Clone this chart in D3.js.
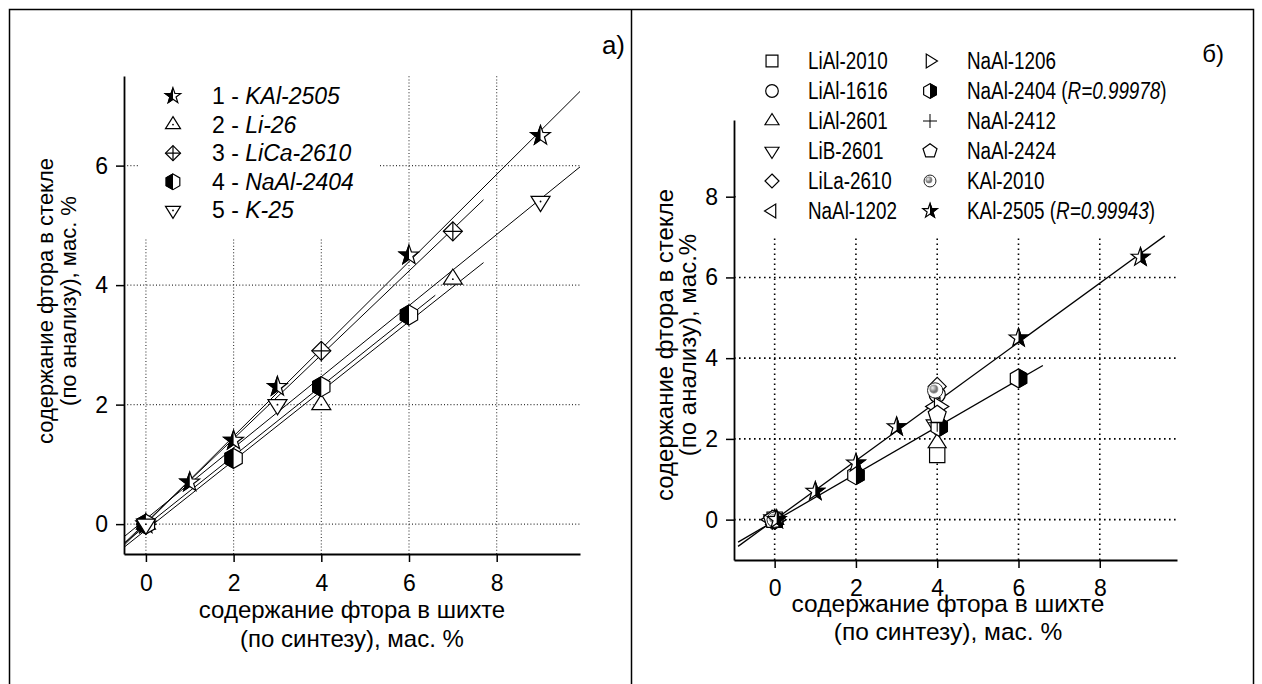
<!DOCTYPE html>
<html>
<head>
<meta charset="utf-8">
<script src="https://cdn.jsdelivr.net/npm/d3@7"></script>
<style>
  body { margin: 0; background: #fff; }
  svg { display: block; }
  text { font-family: Arial, 'Liberation Sans', sans-serif; fill: #000; }
</style>
</head>
<body>
<div id="app"></div>
<script>
// панель а)
var aNames = ['KAl-2505', 'Li-26', 'LiCa-2610', 'NaAl-2404', 'K-25'];
var aX = [[0, 1, 2, 3, 6, 9], [0, 4, 7], [0, 4, 7], [0, 2, 4, 6], [0, 3, 9]];
var aY = [[0, 0.7, 1.4, 2.3, 4.5, 6.5], [0, 2.0, 4.1], [0, 2.9, 4.9], [0, 1.1, 2.3, 3.5], [0, 2.0, 5.4]];
var aFitFrom = [-0.5, -0.5, -0.5, -0.5, -0.5];
var aFitTo = [9.9, 7.7, 7.7, 6.6, 9.9];
var aMarks = ['starL', 'triUpDot', 'diamondCross', 'hexL', 'triDownDot'];

// панель б)
var bNames = ['LiAl-2010', 'LiAl-1616', 'LiAl-2601', 'LiB-2601', 'LiLa-2610', 'NaAl-1202',
              'NaAl-1206', 'NaAl-2404', 'NaAl-2412', 'NaAl-2424', 'KAl-2010', 'KAl-2505'];
var bR = ['', '', '', '', '', '', '', '0.99978', '', '', '', '0.99943'];
var bX = [[0, 4], [0, 4], [0, 4], [-0.05, 3.95], [0, 4], [-0.1, 3.95], [0.05, 4.05],
          [0, 2, 4.05, 6], [0, 4], [-0.05, 4], [0, 3.95], [0.05, 1, 2, 3, 6, 9]];
var bY = [[0, 1.6], [0, 3.1], [0, 1.9], [0, 2.35], [0, 3.3], [0, 2.8], [0, 2.8],
          [0, 1.1, 2.3, 3.5], [0, 2.4], [0, 2.6], [0, 3.2], [0, 0.7, 1.4, 2.3, 4.5, 6.5]];
var bFitSeries = [7, 11];
var bFitFrom = [-0.9, -0.9];
var bFitTo = [6.6, 9.6];
var bMarks = ['square', 'circle', 'triUp', 'triDown', 'diamond', 'triLeft', 'triRight',
              'hexR', 'plus', 'pentagon', 'sphere', 'starR'];

var xMajor = [0, 2, 4, 6, 8];
var aYMajor = [0, 2, 4, 6];
var bYMajor = [0, 2, 4, 6, 8];

var svg = d3.select('#app').append('svg').attr('width', 1262).attr('height', 684);
var defs = svg.append('defs');
defs.append('clipPath').attr('id', 'clipL').append('rect')
    .attr('x', -30).attr('y', -30).attr('width', 30).attr('height', 60);
defs.append('clipPath').attr('id', 'clipR').append('rect')
    .attr('x', 0).attr('y', -30).attr('width', 30).attr('height', 60);
var grad = defs.append('radialGradient').attr('id', 'ball').attr('cx', '35%').attr('cy', '35%');
grad.append('stop').attr('offset', '0%').attr('stop-color', '#eee');
grad.append('stop').attr('offset', '100%').attr('stop-color', '#777');

// рамка
svg.append('rect').attr('x', 9.5).attr('y', 9.5).attr('width', 1244).attr('height', 700)
    .attr('fill', 'none').attr('stroke', '#000').attr('stroke-width', 1.5);
svg.append('line').attr('x1', 631.5).attr('x2', 631.5).attr('y1', 9).attr('y2', 684)
    .attr('stroke', '#000').attr('stroke-width', 1.5);

function fit(xs, ys) {
    var mx = d3.mean(xs), my = d3.mean(ys);
    var sxy = d3.sum(xs, function (x, i) { return (x - mx) * (ys[i] - my); });
    var sxx = d3.sum(xs, function (x) { return (x - mx) * (x - mx); });
    var b = sxy / sxx;
    return { a: my - b * mx, b: b };
}

function starPath(R) {
    var p = [];
    for (var i = 0; i < 10; i++) {
        var ang = Math.PI / 5 * i - Math.PI / 2, rr = i % 2 ? R * 0.4 : R;
        p.push([rr * Math.cos(ang), rr * Math.sin(ang)]);
    }
    return 'M' + p.join('L') + 'Z';
}
function ngonPath(n, R, start) {
    var p = [];
    for (var i = 0; i < n; i++) {
        var ang = start + 2 * Math.PI / n * i;
        p.push([R * Math.cos(ang), R * Math.sin(ang)]);
    }
    return 'M' + p.join('L') + 'Z';
}
function triPath(s, dir) {
    var w = s / 2, hh = s * 0.8;
    var p = [[0, -hh * 2 / 3], [w, hh / 3], [-w, hh / 3]];
    var rot = { up: 0, down: 180, left: -90, right: 90 }[dir];
    var c = Math.cos(rot * Math.PI / 180), si = Math.sin(rot * Math.PI / 180);
    p = p.map(function (q) { return [q[0] * c - q[1] * si, q[0] * si + q[1] * c]; });
    return 'M' + p.join('L') + 'Z';
}

function marker(g, kind, s) {
    var h = s / 2;
    function shape(d, fill) {
        return g.append('path').attr('d', d).attr('fill', fill)
            .attr('stroke', '#000').attr('stroke-width', 1.2).attr('stroke-linejoin', 'miter');
    }
    function half(d, side) {
        shape(d, '#fff');
        g.append('path').attr('d', d).attr('fill', '#000')
            .attr('stroke', '#000').attr('stroke-width', 1.2)
            .attr('clip-path', side === 'L' ? 'url(#clipL)' : 'url(#clipR)');
    }
    function dot() { g.append('circle').attr('r', 0.9).attr('fill', '#000'); }
    if (kind === 'starL' || kind === 'starR') half(starPath(s / 1.85), kind.slice(-1));
    else if (kind === 'hexL' || kind === 'hexR') half(ngonPath(6, h * 1.05, -Math.PI / 2), kind.slice(-1));
    else if (kind === 'triUpDot') { shape(triPath(s, 'up'), '#fff'); dot(); }
    else if (kind === 'triDownDot') { shape(triPath(s, 'down'), '#fff'); dot(); }
    else if (kind === 'triUp') shape(triPath(s, 'up'), '#fff');
    else if (kind === 'triDown') shape(triPath(s, 'down'), '#fff');
    else if (kind === 'triLeft') shape(triPath(s, 'left'), '#fff');
    else if (kind === 'triRight') shape(triPath(s, 'right'), '#fff');
    else if (kind === 'diamond') shape(ngonPath(4, h, -Math.PI / 2), '#fff');
    else if (kind === 'diamondCross') {
        shape(ngonPath(4, h, -Math.PI / 2), '#fff');
        shape('M0,' + -h + 'V' + h + 'M' + -h + ',0H' + h, 'none');
    }
    else if (kind === 'square') shape('M' + -h * 0.85 + ',' + -h * 0.85 + 'h' + s * 0.85 + 'v' + s * 0.85 + 'h' + -s * 0.85 + 'Z', '#fff');
    else if (kind === 'circle') g.append('circle').attr('r', h * 0.9).attr('fill', '#fff').attr('stroke', '#000').attr('stroke-width', 1.2);
    else if (kind === 'pentagon') shape(ngonPath(5, h * 1.05, -Math.PI / 2), '#fff');
    else if (kind === 'plus') shape('M0,' + -h + 'V' + h + 'M' + -h + ',0H' + h, 'none').attr('stroke-width', 1);
    else if (kind === 'sphere') {
        g.append('circle').attr('r', h * 0.85).attr('fill', '#fff').attr('stroke', '#222').attr('stroke-width', 1);
        g.append('circle').attr('cx', -h * 0.15).attr('cy', -h * 0.15).attr('r', h * 0.45)
            .attr('fill', 'url(#ball)').attr('stroke', '#888').attr('stroke-width', 0.6);
    }
}

function axes(g, x, y, xMaj, xMin, yMaj, yMin, xPad) {
    var y0 = y.range()[0], x0 = x.range()[0];
    var gx = g.append('g').attr('transform', 'translate(0,' + y0 + ')');
    gx.call(d3.axisBottom(x).tickValues(xMin).tickSize(5).tickFormat('').tickSizeOuter(0));
    gx.call(d3.axisBottom(x).tickValues(xMaj).tickSize(8).tickPadding(xPad).tickFormat(d3.format('d')).tickSizeOuter(0));
    var gy = g.append('g').attr('transform', 'translate(' + x0 + ',0)');
    gy.call(d3.axisLeft(y).tickValues(yMin).tickSize(5).tickFormat('').tickSizeOuter(0));
    gy.call(d3.axisLeft(y).tickValues(yMaj).tickSize(8).tickPadding(8).tickFormat(d3.format('d')).tickSizeOuter(0));
    g.selectAll('.domain').attr('stroke-width', 1.8);
    g.selectAll('.tick line').attr('stroke-width', 1.5);
    g.selectAll('.tick text').attr('font-size', 23).attr('font-family', 'Arial, Liberation Sans, sans-serif');
}

function grid(g, x, y, xs, ys, w, dash, col) {
    var st = function (sel) {
        sel.attr('stroke', col).attr('stroke-width', w).attr('stroke-dasharray', dash);
    };
    g.selectAll('.gv').data(xs).enter().append('line')
        .attr('x1', x).attr('x2', x).attr('y1', y.range()[0]).attr('y2', y.range()[1]).call(st);
    g.selectAll('.gh').data(ys).enter().append('line')
        .attr('y1', y).attr('y2', y).attr('x1', x.range()[0]).attr('x2', x.range()[1]).call(st);
}

function titles(g, cx, cy, xLines, yLines, xY, yX, fx, fy) {
    g.selectAll('.xt').data(xLines).enter().append('text')
        .attr('x', cx).attr('y', function (d, i) { return xY[i]; })
        .attr('text-anchor', 'middle').attr('font-size', fx).text(function (d) { return d; });
    g.selectAll('.yt').data(yLines).enter().append('text')
        .attr('transform', function (d, i) { return 'translate(' + yX[i] + ',' + cy + ') rotate(-90)'; })
        .attr('text-anchor', 'middle').attr('font-size', fy).text(function (d) { return d; });
}

// ===== а)
var xA = d3.scaleLinear().domain([-0.5, 9.9]).range([124, 580]);
var yA = d3.scaleLinear().domain([-0.5, 7.5]).range([554, 76]);
var gA = svg.append('g');
grid(gA, xA, yA, xMajor, aYMajor, 1.1, '1,2.2', '#333');
gA.append('rect').attr('x', 139).attr('y', 74).attr('width', 240).attr('height', 165).attr('fill', '#fff');

aNames.forEach(function (n, i) {
    var f = fit(aX[i], aY[i]);
    gA.append('line')
        .attr('x1', xA(aFitFrom[i])).attr('y1', yA(f.a + f.b * aFitFrom[i]))
        .attr('x2', xA(aFitTo[i])).attr('y2', yA(f.a + f.b * aFitTo[i]))
        .attr('stroke', '#000').attr('stroke-width', 1);
});
aNames.forEach(function (n, i) {
    aX[i].forEach(function (xv, j) {
        var m = gA.append('g').attr('transform', 'translate(' + xA(xv) + ',' + yA(aY[i][j]) + ')');
        marker(m, aMarks[i], 19);
    });
});
axes(gA, xA, yA, xMajor, [1, 3, 5, 7, 9], aYMajor, [1, 3, 5, 7], 12.5);
titles(gA, 352, 301,
    ['содержание фтора в шихте', '(по синтезу), мас. %'],
    ['содержание фтора в стекле', '(по анализу), мас. %'], [618, 647], [53, 76], 24, 22);

var legA = gA.append('g');
aNames.forEach(function (n, i) {
    var cy = 96 + i * 28.6;
    marker(legA.append('g').attr('transform', 'translate(173,' + cy + ')'), aMarks[i], 15);
    var t = legA.append('text').attr('x', 212).attr('y', cy + 8).attr('font-size', 23);
    t.append('tspan').text((i + 1) + ' - ');
    t.append('tspan').attr('font-style', 'italic').text(n);
});
svg.append('text').attr('x', 625).attr('y', 54).attr('text-anchor', 'end').attr('font-size', 26).text('а)');

// ===== б)
var xB = d3.scaleLinear().domain([-1, 9.9]).range([734, 1177]);
var yB = d3.scaleLinear().domain([-1, 9.9]).range([560, 120]);
var gB = svg.append('g');
grid(gB, xB, yB, xMajor, bYMajor, 1.6, '1.6,3.4', '#000');
gB.append('rect').attr('x', 736).attr('y', 40).attr('width', 445).attr('height', 196).attr('fill', '#fff');

bFitSeries.forEach(function (si, k) {
    var f = fit(bX[si], bY[si]);
    gB.append('line')
        .attr('x1', xB(bFitFrom[k])).attr('y1', yB(f.a + f.b * bFitFrom[k]))
        .attr('x2', xB(bFitTo[k])).attr('y2', yB(f.a + f.b * bFitTo[k]))
        .attr('stroke', '#000').attr('stroke-width', 1.3);
});
bNames.forEach(function (n, i) {
    bX[i].forEach(function (xv, j) {
        var m = gB.append('g').attr('transform', 'translate(' + xB(xv) + ',' + yB(bY[i][j]) + ')');
        marker(m, bMarks[i], 18);
    });
});
axes(gB, xB, yB, xMajor, [-1, 1, 3, 5, 7, 9], bYMajor, [-1, 1, 3, 5, 7, 9], 11.5);
titles(gB, 948, 345,
    ['содержание фтора в шихте', '(по синтезу), мас. %'],
    ['содержание фтора в стекле', '(по анализу), мас.%'], [612, 640], [673, 696], 24.5, 24);

// легенда б) — узкий шрифт, сжатый по горизонтали
var legB = gB.append('g');
bNames.forEach(function (n, i) {
    var col = i < 6 ? 0 : 1, row = i % 6;
    var cy = 61 + row * 30;
    var sx = col ? 930 : 772, tx = col ? 967 : 808;
    marker(legB.append('g').attr('transform', 'translate(' + sx + ',' + cy + ')'), bMarks[i], 14);
    var t = legB.append('text')
        .attr('transform', 'translate(' + tx + ',' + (cy + 8) + ') scale(0.82,1)')
        .attr('font-size', 23);
    t.append('tspan').text(n);
    if (bR[i]) {
        t.append('tspan').text(' (');
        t.append('tspan').attr('font-style', 'italic').text('R=' + bR[i]);
        t.append('tspan').text(')');
    }
});
svg.append('text').attr('x', 1224).attr('y', 62).attr('text-anchor', 'end').attr('font-size', 24).text('б)');
</script>
</body>
</html>
